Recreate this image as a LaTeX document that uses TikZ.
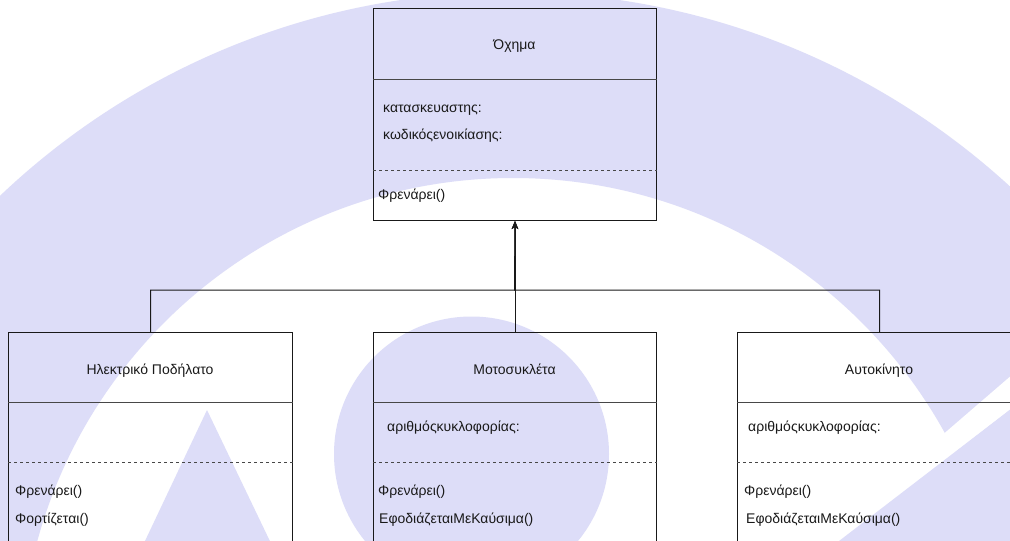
\documentclass[tikz,border=0pt]{standalone}
\usepackage{fontspec}
\setmainfont{Liberation Sans}
\usetikzlibrary{arrows.meta}
\definecolor{lav}{RGB}{221,221,248}
\definecolor{ink}{RGB}{25,25,25}
\begin{document}
\begin{tikzpicture}[x=1pt,y=-1pt,
  font=\fontsize{14}{16}\selectfont,
  classbox/.style={draw=ink, line width=1pt, minimum width=283pt, anchor=north west, inner sep=0pt},
  sepline/.style={draw=ink!80, line width=1pt},
  dashline/.style={draw=ink!80, line width=1pt, dash pattern=on 3pt off 3pt},
  txt/.style={inner sep=0pt, text=ink},
  conn/.style={draw=ink, line width=1pt},
  inherit/.style={conn, -{Stealth[length=8pt,width=6.5pt,inset=2pt]}}]
\useasboundingbox (0,0) rectangle (1010,541);
\clip (0,0) rectangle (1010,541);
\fill[white] (0,0) rectangle (1010,541);
% background watermark
\fill[lav, even odd rule] (510,732) circle[radius=740pt] (513,671) circle[radius=493pt];
\fill[white] (940,437) -- (1020,368) -- (1020,402) -- (940,464) -- cycle;
\fill[lav] (826,551) -- (1020,402) -- (1020,560) -- (826,560) -- cycle;
\fill[lav] (207,410) -- (279,560) -- (136,560) -- cycle;
\fill[lav] (471.5,454) circle[radius=137.5pt];
% classes
\node[classbox, minimum height=212pt] (oxima) at (373,8) {};
\draw[sepline] ([yshift=-71pt]oxima.north west) -- ([yshift=-71pt]oxima.north east);
\draw[dashline] ([yshift=-162pt]oxima.north west) -- ([yshift=-162pt]oxima.north east);
\node[txt, anchor=base] (oximaT) at (514.5,49) {Όχημα};
\node[txt, anchor=base west] (oximaA1) at (383,112.5) {κατασκευαστης:};
\node[txt, anchor=base west] (oximaA2) at (383,139) {κωδικόςενοικίασης:};
\node[txt, anchor=base west] (oximaM1) at (378,199.5) {Φρενάρει()};

\node[classbox, minimum width=284pt, minimum height=230pt] (ebike) at (8,332) {};
\draw[sepline] ([yshift=-70pt]ebike.north west) -- ([yshift=-70pt]ebike.north east);
\draw[dashline] ([yshift=-130pt]ebike.north west) -- ([yshift=-130pt]ebike.north east);
\node[txt, anchor=base] (ebikeT) at (150,374) {Ηλεκτρικό Ποδήλατο};
\node[txt, anchor=base west] (ebikeM1) at (15,495) {Φρενάρει()};
\node[txt, anchor=base west] (ebikeM2) at (15,523.5) {Φορτίζεται()};

\node[classbox, minimum height=230pt] (moto) at (373,332) {};
\draw[sepline] ([yshift=-70pt]moto.north west) -- ([yshift=-70pt]moto.north east);
\draw[dashline] ([yshift=-130pt]moto.north west) -- ([yshift=-130pt]moto.north east);
\node[txt, anchor=base] (motoT) at (514.5,374) {Μοτοσυκλέτα};
\node[txt, anchor=base west] (motoA1) at (387,431.5) {αριθμόςκυκλοφορίας:};
\node[txt, anchor=base west] (motoM1) at (378,495) {Φρενάρει()};
\node[txt, anchor=base west] (motoM2) at (379,523) {ΕφοδιάζεταιΜεΚαύσιμα()};

\node[classbox, minimum width=284pt, minimum height=230pt] (car) at (737,332) {};
\draw[sepline] ([yshift=-70pt]car.north west) -- ([yshift=-70pt]car.north east);
\draw[dashline] ([yshift=-130pt]car.north west) -- ([yshift=-130pt]car.north east);
\node[txt, anchor=base] (carT) at (879,374) {Αυτοκίνητο};
\node[txt, anchor=base west] (carA1) at (748,431.5) {αριθμόςκυκλοφορίας:};
\node[txt, anchor=base west] (carM1) at (744,495) {Φρενάρει()};
\node[txt, anchor=base west] (carM2) at (746,523) {ΕφοδιάζεταιΜεΚαύσιμα()};

% inheritance connectors
\coordinate (bus) at (514.5,290);
\draw[inherit] (ebike.north) |- (bus) -- (oxima.south);
\draw[inherit] (car.north) |- (bus) -- (oxima.south);
\draw[inherit] (moto.north) -- (oxima.south);
\end{tikzpicture}
\end{document}
